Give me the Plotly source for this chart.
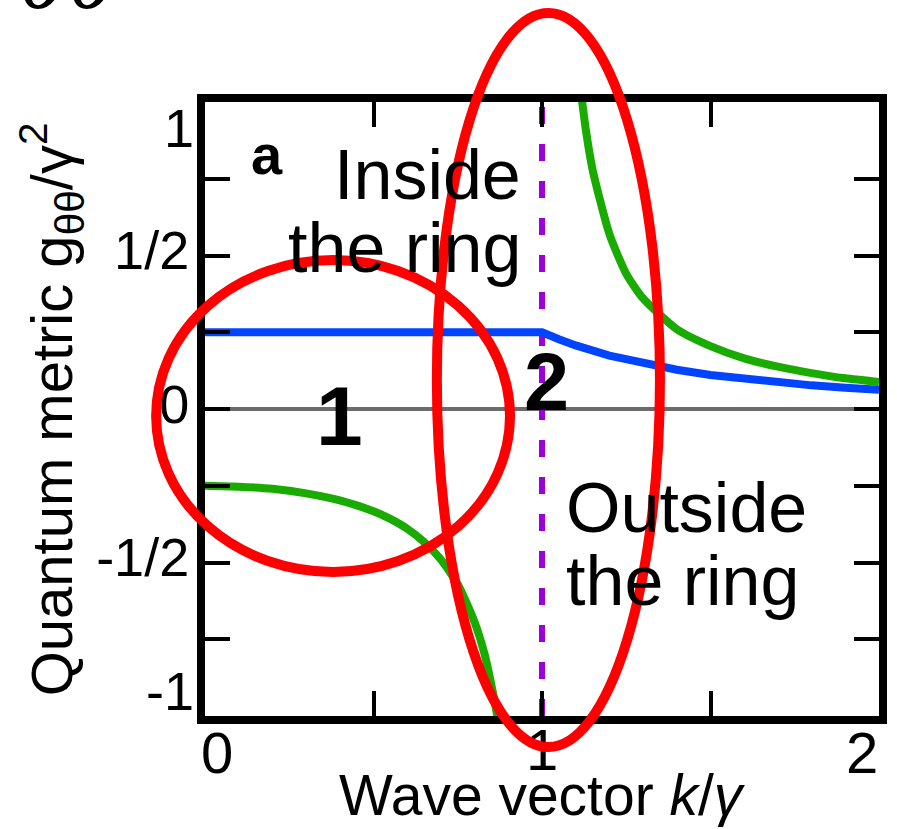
import plotly.graph_objects as go

# ---- data ----
blue_k = [0, 0.5, 1.0, 1.05, 1.1, 1.2, 1.3, 1.4, 1.5, 1.6, 1.7, 1.8, 1.9, 2.0]
blue_g = [0.25, 0.25, 0.25, 0.227, 0.207, 0.174, 0.148, 0.128, 0.111, 0.098, 0.087, 0.077, 0.069, 0.0625]

green_in_k = [0, 0.1, 0.2, 0.3, 0.4, 0.5, 0.55, 0.6, 0.65, 0.7, 0.75, 0.8, 0.83, 0.85, 0.867, 0.875]
green_in_g = [-0.25, -0.253, -0.26, -0.275, -0.298, -0.333, -0.358, -0.39, -0.433, -0.49, -0.571, -0.694, -0.80, -0.90, -1.0, -1.06]

green_out_k = [1.105, 1.11, 1.13, 1.15, 1.2, 1.25, 1.3, 1.4, 1.5, 1.6, 1.7, 1.8, 1.9, 2.0]
green_out_g = [1.12, 1.08, 0.91, 0.78, 0.57, 0.44, 0.36, 0.26, 0.205, 0.165, 0.138, 0.117, 0.1, 0.088]

ring_k = [1.0, 1.0]
ring_g = [-1.0, 1.0]

y_ticks = [-1, -0.75, -0.5, -0.25, 0, 0.25, 0.5, 0.75, 1]
y_ticktext = [" ", " ", "-1/2", " ", "0", " ", "1/2", " ", " "]
x_ticks = [0, 0.5, 1, 1.5, 2]
x_ticktext = [" ", " ", "1", " ", " "]
# end labels, nudged inside the frame as in the reference
y_end_labels = [("1", 0.958), ("-1", 0.041)]
x_end_labels = [("0", -0.009, "left"), ("2", 1.002, "right")]

# ellipses (data units: k0, k1, g0, g1)
ellipse1 = [-0.145, 0.905, -0.531, 0.485]
ellipse2 = [0.688, 1.350, -1.101, 1.290]

XR = [0, 2]
YR = [-1, 1]

FONT = "Liberation Sans, Arial, sans-serif"
YTICK_SIZE = 54
XTICK_SIZE = 58

fig = go.Figure()
fig.add_trace(go.Scatter(x=ring_k, y=ring_g, mode="lines",
                         line=dict(color="#9b00d9", width=6, dash="17px,20px"),
                         showlegend=False, hoverinfo="skip"))
fig.add_trace(go.Scatter(x=green_in_k, y=green_in_g, mode="lines",
                         line=dict(color="#1aab00", width=8, shape="spline", smoothing=0.6),
                         showlegend=False))
fig.add_trace(go.Scatter(x=green_out_k, y=green_out_g, mode="lines",
                         line=dict(color="#1aab00", width=8, shape="spline", smoothing=0.6),
                         showlegend=False))
fig.add_trace(go.Scatter(x=blue_k, y=blue_g, mode="lines",
                         line=dict(color="#0044ff", width=8),
                         showlegend=False))


def to_paper_x(k):
    return (k - XR[0]) / (XR[1] - XR[0])


def to_paper_y(g):
    return (g - YR[0]) / (YR[1] - YR[0])


for e in (ellipse1, ellipse2):
    fig.add_shape(type="circle", xref="paper", yref="paper",
                  x0=to_paper_x(e[0]), x1=to_paper_x(e[1]),
                  y0=to_paper_y(e[2]), y1=to_paper_y(e[3]),
                  line=dict(color="#ff0000", width=10), layer="above")

ann = [
    dict(x=0.13, y=0.83, text="<b>a</b>", size=56, xanchor="left"),
    dict(x=0.945, y=0.762, text="Inside", size=70, xanchor="right"),
    dict(x=0.945, y=0.524, text="the ring", size=70, xanchor="right"),
    dict(x=1.064, y=-0.322, text="Outside", size=70, xanchor="left"),
    dict(x=1.064, y=-0.560, text="the ring", size=70, xanchor="left"),
    dict(x=0.40, y=-0.023, text="<b>1</b>", size=84, xanchor="center"),
    dict(x=1.012, y=0.088, text="<b>2</b>", size=81, xanchor="center"),
]
for a in ann:
    fig.add_annotation(x=a["x"], y=a["y"], xref="x", yref="y", text=a["text"],
                       showarrow=False, xanchor=a["xanchor"], yanchor="middle",
                       font=dict(family=FONT, size=a["size"], color="black"))

for txt, py in y_end_labels:
    fig.add_annotation(x=-0.014, y=py, xref="paper", yref="paper", text=txt,
                       showarrow=False, xanchor="right", yanchor="middle",
                       font=dict(family=FONT, size=YTICK_SIZE, color="black"))
for txt, px, anc in x_end_labels:
    fig.add_annotation(x=px, y=-0.059, xref="paper", yref="paper", text=txt,
                       showarrow=False, xanchor=anc, yanchor="middle",
                       font=dict(family=FONT, size=XTICK_SIZE, color="black"))

# cut-off title at top
fig.add_annotation(x=-0.281, y=1.207, xref="paper", yref="paper", text="<i>θθ</i>",
                   showarrow=False, xanchor="left", yanchor="middle",
                   font=dict(family="Liberation Serif, serif", size=100, color="black"))

# axis titles
fig.add_annotation(x=0.5, y=-0.128, xref="paper", yref="paper",
                   text="Wave vector <i>k</i>/<i>γ</i>", showarrow=False,
                   xanchor="center", yanchor="middle",
                   font=dict(family=FONT, size=57, color="black"))
fig.add_annotation(x=-0.228, y=0.50, xref="paper", yref="paper",
                   text="Quantum metric g<sub>θθ</sub>/γ<sup>2</sup>", showarrow=False,
                   textangle=-90, xanchor="center", yanchor="middle",
                   font=dict(family=FONT, size=58, color="black"))

axis_common = dict(showgrid=False, showline=True, linecolor="black", linewidth=8,
                   mirror="ticks", ticks="inside", ticklen=25, tickwidth=4,
                   tickcolor="black", automargin=False)

fig.update_layout(
    width=897, height=829,
    margin=dict(l=205, r=18, t=102, b=113),
    paper_bgcolor="white", plot_bgcolor="white",
    xaxis=dict(range=XR, tickvals=x_ticks, ticktext=x_ticktext, zeroline=False,
               ticklabelstandoff=-24,
               tickfont=dict(family=FONT, size=XTICK_SIZE, color="black"),
               **axis_common),
    yaxis=dict(range=YR, tickvals=y_ticks, ticktext=y_ticktext,
               zeroline=True, zerolinecolor="#6b6b6b", zerolinewidth=4,
               ticklabelstandoff=-3, ticklabelshift=-5,
               tickfont=dict(family=FONT, size=YTICK_SIZE, color="black"),
               **axis_common),
)

fig.write_html("out.html")
